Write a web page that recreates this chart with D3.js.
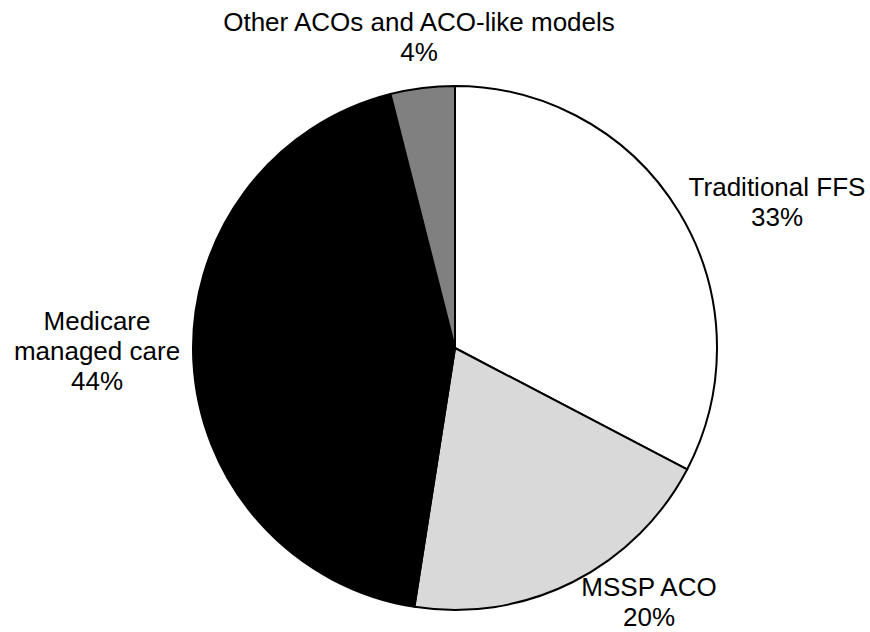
<!DOCTYPE html>
<html>
<head>
<meta charset="utf-8">
<script src="https://cdn.jsdelivr.net/npm/d3@7/dist/d3.min.js"></script>
<style>
  html, body { margin: 0; padding: 0; background: #fff; }
  text { font-family: "Liberation Sans", Arial, sans-serif; font-size: 26px; fill: #000; }
</style>
</head>
<body>
<svg id="chart" width="870" height="632"></svg>
<script>
// Share of beneficiaries by care model
const categories = ["Traditional FFS", "MSSP ACO", "Medicare managed care", "Other ACOs and ACO-like models"];
const values = [33, 20, 44, 4];
const fills = ["#ffffff", "#d9d9d9", "#000000", "#808080"];
// Label lines and anchor points for each slice
const labelLines = [
  ["Traditional FFS", "33%"],
  ["MSSP ACO", "20%"],
  ["Medicare", "managed care", "44%"],
  ["Other ACOs and ACO-like models", "4%"]
];
const labelPos = [[777, 196], [649, 596], [97, 330], [419, 31]];

const svg = d3.select("#chart");
const cx = 455, cy = 348, r = 262;

const pie = d3.pie().sort(null).value(d => d);
const arc = d3.arc().innerRadius(0).outerRadius(r);

const g = svg.append("g").attr("transform", `translate(${cx},${cy})`);
g.selectAll("path")
  .data(pie(values))
  .join("path")
  .attr("d", arc)
  .attr("fill", (d, i) => fills[i])
  .attr("stroke", "#000")
  .attr("stroke-width", 2)
  .attr("stroke-linejoin", "round");

const lineH = 30;
svg.selectAll("text.label")
  .data(labelLines)
  .join("text")
  .attr("class", "label")
  .attr("text-anchor", "middle")
  .each(function (lines, i) {
    const t = d3.select(this);
    lines.forEach((ln, k) => {
      t.append("tspan")
        .attr("x", labelPos[i][0])
        .attr("y", labelPos[i][1] + k * lineH)
        .text(ln);
    });
  });
</script>
</body>
</html>
